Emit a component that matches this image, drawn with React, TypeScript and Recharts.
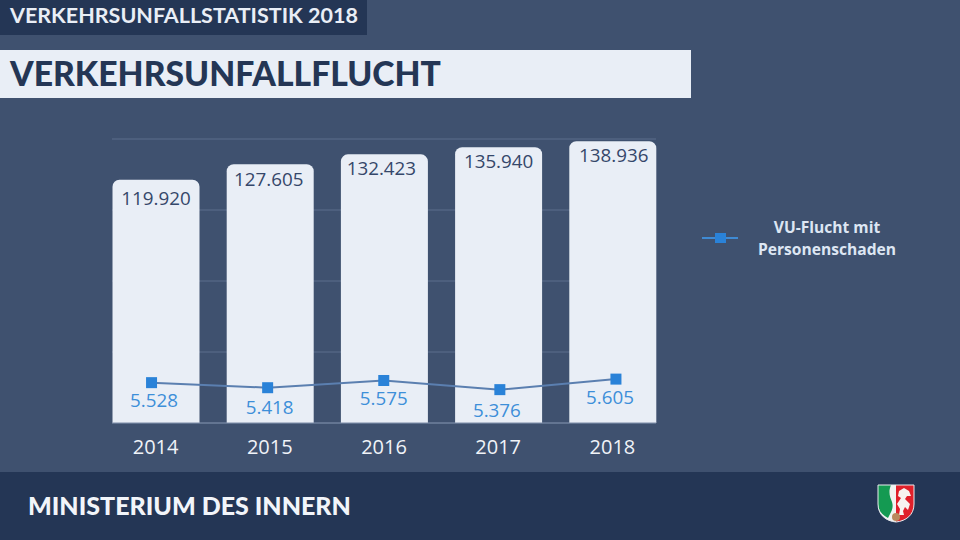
import React from 'react';
import { ComposedChart, Bar, Line, XAxis, YAxis, CartesianGrid, LabelList, Legend } from 'recharts';

const years = ['2014', '2015', '2016', '2017', '2018'];
const totalValues = [119920, 127605, 132423, 135940, 138936];
const injuryValues = [5528, 5418, 5575, 5376, 5605];
const barTicks = [0, 35000, 70000, 105000, 140000];
const seriesName = 'VU-Flucht mit Personenschaden';

// the labels in the original were placed by hand, so each has its own nudge
const barLabelNudge = [18, 15, 14, 14, 14];
const barLabelShift = [0, -1.5, -3, 0, 1];
const lineLabelNudge = [17, 19, 18, 20, 18];
const lineLabelShift = [2.5, 2, 0, -3, -6];

const chartData = years.map((year, i) => ({
  year,
  total: totalValues[i],
  injury: injuryValues[i],
}));

const fmt = (v: number) => v.toLocaleString('de-DE');

const BarValue = (props: any) => {
  const { x, y, width, value, index } = props;
  return (
    <text
      x={x + width / 2 + barLabelShift[index]}
      y={y + barLabelNudge[index]}
      textAnchor="middle"
      dominantBaseline="central"
      fontSize={18.8}
      fontFamily="Open Sans"
      fill="#35476a"
    >
      {fmt(value)}
    </text>
  );
};

const LineValue = (props: any) => {
  const { x, y, value, index } = props;
  return (
    <text
      x={x + lineLabelShift[index]}
      y={y + lineLabelNudge[index]}
      textAnchor="middle"
      dominantBaseline="central"
      fontSize={18.8}
      fontFamily="Open Sans"
      fill="#3d8fd9"
    >
      {fmt(value)}
    </text>
  );
};

const SquareDot = (props: any) => {
  const { cx, cy, index } = props;
  return <rect key={index} x={cx - 5.5} y={cy - 5.5} width={11} height={11} fill="#2a82d8" />;
};

const LegendBox = () => (
  <div style={{ display: 'flex', alignItems: 'center', width: 230 }}>
    <svg width={36} height={12} style={{ flex: 'none' }}>
      <line x1={0} y1={6} x2={36} y2={6} stroke="#3f8ad3" strokeWidth={2} />
      <rect x={13} y={1} width={11} height={10} fill="#2a82d8" />
    </svg>
    <div
      style={{
        width: 178,
        textAlign: 'center',
        fontFamily: 'Open Sans',
        fontWeight: 700,
        fontSize: 15.6,
        lineHeight: '22px',
        color: '#dde6f3',
      }}
    >
      VU-Flucht mit
      <br />
      Personenschaden
    </div>
  </div>
);

const Crest = () => (
  <svg width={38} height={39} viewBox="0 0 38 39" style={{ position: 'absolute', left: 877, top: 484 }}>
    <path d="M1 1H19V38C9 37 1 31 1 20Z" fill="#f2f4f2" />
    <path d="M1 1H14C11 8 13 13 15 18C17 24 14 28 11 34C5 31 1 26 1 20Z" fill="#149a52" />
    <path d="M19 1H37V20C37 31 29 37 19 38Z" fill="#e0202a" />
    <path
      d="M22 7L27 4L32 7L34 12L30 12L28 15L33 20L31 26L28 23L26 27L27 31L22 31L23 25L20 20L24 14L21 12Z"
      fill="#f7f3ef"
    />
    <circle cx={19} cy={33} r={4} fill="#b98a5e" />
    <path d="M1 1H37V20C37 31 29 37 19 38C9 37 1 31 1 20Z" fill="none" stroke="#e8ebee" strokeWidth={1} />
  </svg>
);

const App = () => {
  return (
    <div style={{ position: 'absolute', left: 0, top: 0, width: 960, height: 540, overflow: 'hidden', background: '#3f516f' }}>
      <div style={{ position: 'absolute', left: 0, top: 0, width: 367, height: 35, background: '#243655' }} />
      <div
        style={{
          position: 'absolute',
          left: 10,
          top: 0,
          lineHeight: '31px',
          fontFamily: 'Lato',
          fontWeight: 700,
          fontSize: 21.5,
          color: '#e9eef6',
        }}
      >
        VERKEHRSUNFALLSTATISTIK 2018
      </div>
      <div style={{ position: 'absolute', left: 0, top: 50, width: 691, height: 48, background: '#e9eef6' }} />
      <div
        style={{
          position: 'absolute',
          left: 10,
          top: 50,
          lineHeight: '47px',
          fontFamily: 'Lato',
          fontWeight: 900,
          fontSize: 33.7,
          color: '#243655',
        }}
      >
        VERKEHRSUNFALLFLUCHT
      </div>

      <div style={{ position: 'absolute', left: 0, top: 0 }}>
        <ComposedChart
          width={960}
          height={470}
          data={chartData}
          margin={{ top: 139, right: 304, bottom: 0, left: 112 }}
        >
          <CartesianGrid yAxisId="totals" vertical={false} stroke="#5d6f8d" strokeWidth={1} />
          <XAxis
            dataKey="year"
            height={47}
            padding={{ left: -13.5, right: -13.5 }}
            axisLine={{ stroke: '#7b8ba6' }}
            tickLine={false}
            tickMargin={11}
            tick={{ fill: '#f0f3f8', fontSize: 20, fontFamily: 'Open Sans' }}
          />
          <XAxis xAxisId="points" dataKey="year" hide padding={{ left: -18.5, right: -18 }} />
          <YAxis yAxisId="totals" hide domain={[0, 140000]} ticks={barTicks} />
          <YAxis yAxisId="injuries" hide orientation="right" domain={[4650, 10830]} />
          <Bar
            yAxisId="totals"
            dataKey="total"
            barSize={87}
            fill="#e9eef6"
            radius={[7, 7, 0, 0]}
            legendType="none"
            isAnimationActive={false}
          >
            <LabelList dataKey="total" content={BarValue} />
          </Bar>
          <Line
            xAxisId="points"
            yAxisId="injuries"
            dataKey="injury"
            name={seriesName}
            stroke="#5b7fb0"
            strokeWidth={2}
            dot={SquareDot}
            isAnimationActive={false}
          >
            <LabelList dataKey="injury" content={LineValue} />
          </Line>
          <Legend
            content={LegendBox}
            layout="vertical"
            align="center"
            verticalAlign="middle"
            wrapperStyle={{ position: 'absolute', left: 702, top: 216, width: 230 }}
          />
        </ComposedChart>
      </div>

      <div style={{ position: 'absolute', left: 0, top: 472, width: 960, height: 68, background: '#243655' }} />
      <div
        style={{
          position: 'absolute',
          left: 28,
          top: 472,
          lineHeight: '67px',
          fontFamily: 'Lato',
          fontWeight: 900,
          fontSize: 25,
          color: '#f2f5fa',
        }}
      >
        MINISTERIUM DES INNERN
      </div>
      <Crest />
    </div>
  );
};

export default App;
